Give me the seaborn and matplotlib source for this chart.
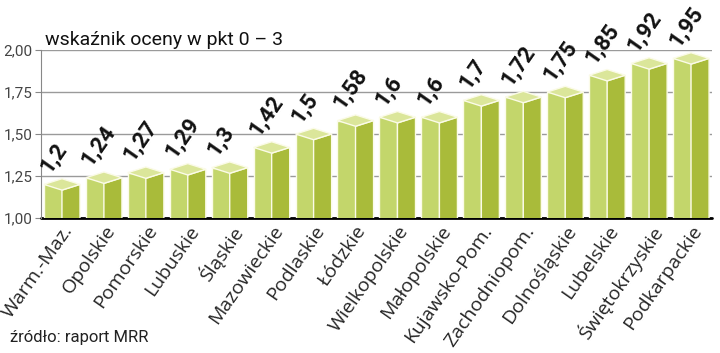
import matplotlib
matplotlib.use("Agg")
import matplotlib.pyplot as plt
from matplotlib.patches import Polygon
from matplotlib.ticker import FuncFormatter
import seaborn as sns
import pandas as pd

# =========================
# DATA
# =========================
regions = ["Warm.-Maz.", "Opolskie", "Pomorskie", "Lubuskie", "Śląskie",
           "Mazowieckie", "Podlaskie", "Łódzkie", "Wielkopolskie", "Małopolskie",
           "Kujawsko-Pom.", "Zachodniopom.", "Dolnośląskie", "Lubelskie",
           "Świętokrzyskie", "Podkarpackie"]
scores = [1.2, 1.24, 1.27, 1.29, 1.3, 1.42, 1.5, 1.58, 1.6, 1.6,
          1.7, 1.72, 1.75, 1.85, 1.92, 1.95]
score_labels = ["1,2", "1,24", "1,27", "1,29", "1,3", "1,42", "1,5", "1,58",
                "1,6", "1,6", "1,7", "1,72", "1,75", "1,85", "1,92", "1,95"]
y_ticks = [1.0, 1.25, 1.5, 1.75, 2.0]

TITLE = "wskaźnik oceny w pkt 0 – 3"
SOURCE = "źródło: raport MRR"

# =========================
# STYLE
# =========================
FRONT = "#c3d66b"
SIDE = "#a9bb3a"
TOP = "#dbe69a"
EDGE = "#fbfbe8"
DEPTH = 0.034

sns.set_style("white")
COND = ["Roboto", "DejaVu Sans"]
LABEL_FONT = ["Open Sans", "DejaVu Sans"]

df = pd.DataFrame({"region": regions, "score": scores})

fig = plt.figure(figsize=(7.2, 3.53), dpi=100)
ax = fig.add_axes([41 / 720, 1 - 218 / 353, 671 / 720, 168 / 353])

sns.barplot(data=df, x="region", y="score", color=FRONT, saturation=1,
            width=0.86, edgecolor=EDGE, linewidth=1.0, ax=ax, zorder=3)

# turn each flat bar into a little box: front half + side face + top
for p in ax.patches:
    x0, w, v = p.get_x(), p.get_width(), p.get_height()
    xm, x1 = x0 + w / 2, x0 + w
    p.set_width(w / 2)
    side = Polygon([(xm, 0), (xm, v - DEPTH), (x1, v), (x1, 0)], closed=True,
                   facecolor=SIDE, edgecolor=EDGE, linewidth=1.0, zorder=4)
    top = Polygon([(x0, v), (xm, v - DEPTH), (x1, v), (xm, v + DEPTH)], closed=True,
                  facecolor=TOP, edgecolor=EDGE, linewidth=1.0, zorder=5)
    ax.add_patch(side)
    ax.add_patch(top)

# value labels
for i, (v, lab) in enumerate(zip(scores, score_labels)):
    ax.text(i - 0.22, v + 0.045, lab, rotation=55, rotation_mode="anchor",
            ha="left", va="bottom", fontsize=16, fontweight="bold",
            family=COND, color="#111111", clip_on=False, zorder=6)

ax.set_xlim(-0.5, len(regions) - 0.5)
ax.set_ylim(1.0, 2.0)
ax.set_yticks(y_ticks)
ax.yaxis.set_major_formatter(FuncFormatter(lambda y, _: f"{y:.2f}".replace(".", ",")))
for t in ax.get_yticklabels():
    t.set_family(COND)
    t.set_fontsize(11)
    t.set_color("#444444")
ax.tick_params(axis="y", length=4, width=0.8, color="#888888", pad=2, left=True)

ax.set_xlabel("")
ax.set_ylabel("")
ax.set_xticks(range(len(regions)))
ax.set_xticklabels(regions, rotation=55, ha="right", va="top",
                   rotation_mode="anchor", family=LABEL_FONT, fontsize=14)
ax.tick_params(axis="x", length=0, pad=3)

ax.grid(axis="y", color="#9a9a9a", linewidth=1.0, zorder=0)
ax.set_axisbelow(True)
ax.axhline(1.0, color="black", linewidth=2, zorder=2, clip_on=False)

for s in ["top", "right", "bottom"]:
    ax.spines[s].set_visible(False)
ax.spines["left"].set_color("#888888")
ax.spines["left"].set_linewidth(0.8)

fig.text(45 / 720, 1 - 45 / 353, TITLE, family=COND, fontsize=14,
         color="#111111", va="baseline", ha="left")
fig.text(10 / 720, 1 - 342 / 353, SOURCE, family=COND, fontsize=12,
         color="#222222", va="baseline", ha="left")

fig.savefig("out.png", dpi=100)
